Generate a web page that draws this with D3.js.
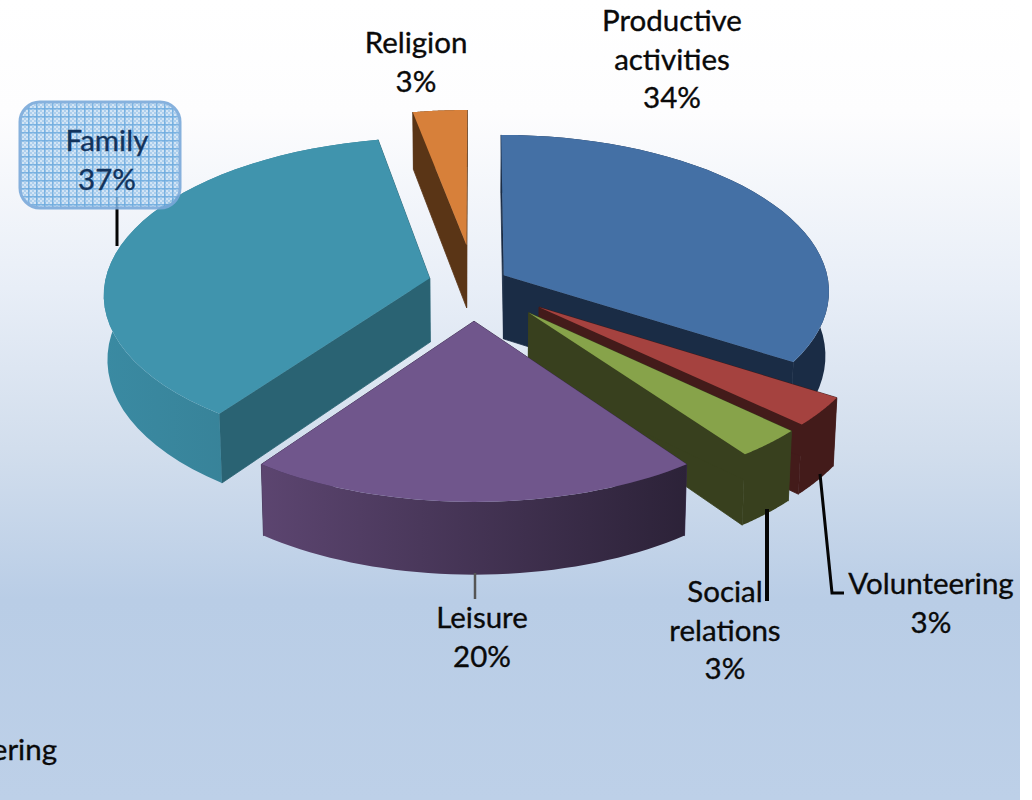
<!DOCTYPE html>
<html>
<head>
<meta charset="utf-8">
<style>
  html, body { margin: 0; padding: 0; background: #fff; }
  svg { display: block; }
  text { font-family: Lato, sans-serif; font-size: 29.5px; fill: #0a0a0a; stroke: #0a0a0a; stroke-width: 0.35px; text-anchor: middle; }
</style>
<script src="https://cdn.jsdelivr.net/npm/d3@7"></script>
</head>
<body>
<svg id="chart" width="1032" height="800"></svg>
<script>
// Share of time per activity, clockwise from twelve o'clock
const categories = ["Productive activities", "Volunteering", "Social relations", "Leisure", "Family", "Religion"];
const shares = [34, 3, 3, 20, 37, 3];
// How far each slice is pulled out of the pie, as a fraction of its radius
const explode = [0.105, 0.25, 0.25, 0.24, 0.14, 0.25];
const topColors = ["#4470a5", "#a5423f", "#87a34a", "#70568c", "#4094ad", "#d7803a"];
const edgeColors = ["#1a2c45", "#431b1a", "#38401e", "#38294a", "#2a6373", "#5a3516"];
const rimColors = [["#1a2c45", "#1a2c45"], ["#431b1a", "#431b1a"], ["#38401e", "#38401e"],
                   ["#5c4570", "#2c2238"], ["#3a8aa2", "#357a8e"], ["#5a3516", "#5a3516"]];
// Label lines, with anchor point and line pitch
const labelLines = [["Productive", "activities", "34%"], ["Volunteering", "3%"], ["Social", "relations", "3%"],
                    ["Leisure", "20%"], ["Family", "37%"], ["Religion", "3%"]];
const labelAnchors = [[672, 31], [931, 594], [725, 602], [482, 628], [107, 151], [416, 53]];
const labelPitch = 38.6;

const W = 1020, H = 800;
const svg = d3.select("#chart");
const defs = svg.append("defs");

// Page background
const bg = defs.append("linearGradient").attr("id", "bg").attr("x1", 0).attr("y1", 0).attr("x2", 0).attr("y2", 1);
[[0, "#ffffff"], [0.14, "#fdfdfe"], [0.36, "#e8eef7"], [0.56, "#d2deed"], [0.75, "#b9cde6"], [1, "#bdd0e8"]]
  .forEach(([o, c]) => bg.append("stop").attr("offset", o).attr("stop-color", c));
svg.append("rect").attr("width", W).attr("height", H).attr("fill", "url(#bg)");

// Perspective projection of the pie plane: u to the right, v toward the viewer
const cx = 474, cy = 283, rx = 325, ry = 155.3, persp = 0.097, depth = 64, foot = 0.99;
const top2d = (u, v) => {
  const w = 1 - persp * v;
  return [cx + rx * u / w, cy + ry * v / w];
};
const bottom2d = (u, v) => {
  const w = 1 - persp * v;
  return [cx + foot * rx * u / w, cy + ry * v / w + depth / w];
};

const arcs = d3.pie().sort(null).startAngle(0).endAngle(2 * Math.PI)(shares);
const line = d3.line();

const slices = arcs.map((a, i) => {
  const mid = (a.startAngle + a.endAngle) / 2;
  const ou = explode[i] * Math.sin(mid), ov = -explode[i] * Math.cos(mid);
  const at = t => [ou + Math.sin(t), ov - Math.cos(t)];
  const steps = d3.range(0, 41).map(k => a.startAngle + (a.endAngle - a.startAngle) * k / 40);
  return { i, a, apex: [ou, ov], rim: steps.map(at) };
});

// Draw from the back of the pie to the front
const paintOrder = [5, 0, 4, 1, 2, 3];
const g = svg.append("g");

paintOrder.forEach(i => {
  const s = slices[i];
  const wall = pts => line([...pts.map(p => top2d(...p)), ...pts.slice().reverse().map(p => bottom2d(...p))]) + "Z";
  const first = s.rim[0], last = s.rim[s.rim.length - 1];

  const grad = defs.append("linearGradient").attr("id", "rim" + i);
  grad.append("stop").attr("offset", 0).attr("stop-color", rimColors[i][0]);
  grad.append("stop").attr("offset", 1).attr("stop-color", rimColors[i][1]);

  // Cut faces first, then the rim, then the top face; the cut faces get a hairline
  // so no seam shows where they meet the rim
  [last, first].forEach(p => {
    g.append("path").attr("d", wall([s.apex, p]))
      .attr("fill", edgeColors[i]).attr("stroke", edgeColors[i]).attr("stroke-width", 0.8);
  });
  g.append("path").attr("d", wall(s.rim)).attr("fill", `url(#rim${i})`);
  g.append("path")
    .attr("d", line([s.apex, ...s.rim].map(p => top2d(...p))) + "Z")
    .attr("fill", topColors[i]);
});

// Leader lines
const leaders = svg.append("g").attr("fill", "none").attr("stroke", "#050505");
leaders.append("path").attr("d", line([[117, 197], [117, 246]])).attr("stroke-width", 3);
leaders.append("path").attr("d", line([[475, 573], [475, 599]])).attr("stroke-width", 2.5).attr("stroke", "#555");
leaders.append("path").attr("d", line([[767, 509], [767, 601]])).attr("stroke-width", 4);
leaders.append("path").attr("d", line([[820, 474], [832, 593], [844, 593]])).attr("stroke-width", 3);

// Highlighted label box: a fine checker crossed by a grid
const pat = defs.append("pattern").attr("id", "grid").attr("patternUnits", "userSpaceOnUse")
  .attr("width", 8).attr("height", 8);
pat.append("rect").attr("width", 8).attr("height", 8).attr("fill", "#a6cbec");
d3.range(0, 4).forEach(a => d3.range(0, 4).forEach(b => {
  if ((a + b) % 2 === 0) {
    pat.append("rect").attr("x", a * 2).attr("y", b * 2).attr("width", 2).attr("height", 2).attr("fill", "#cfe3f5");
  }
}));
pat.append("rect").attr("x", 4).attr("width", 1.5).attr("height", 8).attr("fill", "#5fa3dc").attr("opacity", 0.85);
pat.append("rect").attr("y", 4).attr("width", 8).attr("height", 1.5).attr("fill", "#5fa3dc").attr("opacity", 0.85);
svg.append("rect").attr("x", 20).attr("y", 102).attr("width", 160).attr("height", 106).attr("rx", 20)
  .attr("fill", "url(#grid)").attr("stroke", "#7aa9da").attr("stroke-width", 3).attr("opacity", 0.9);

// Category labels
labelLines.forEach((lines, i) => {
  lines.forEach((t, k) => {
    svg.append("text")
      .attr("x", labelAnchors[i][0])
      .attr("y", labelAnchors[i][1] + k * labelPitch)
      .style("fill", i === 4 ? "#12335c" : null)
      .style("stroke", i === 4 ? "#12335c" : null)
      .text(t);
  });
});

// Legend entry running off the left edge
svg.append("text").attr("x", 57).attr("y", 760).style("text-anchor", "end").text("Volunteering");

// Margin to the right of the chart area
svg.append("rect").attr("x", W).attr("width", 1032 - W).attr("height", H).attr("fill", "#fff");
</script>
</body>
</html>
